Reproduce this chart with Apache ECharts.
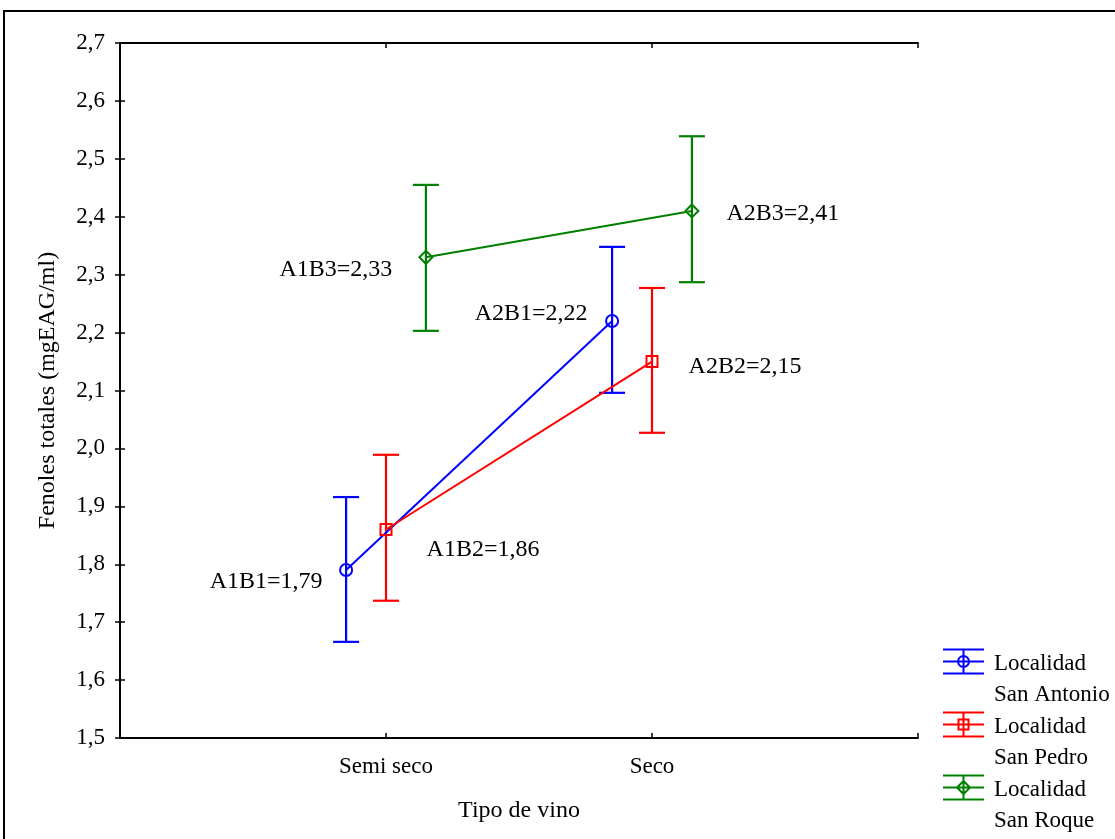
<!DOCTYPE html>
<html>
<head>
<meta charset="utf-8">
<script src="https://cdn.jsdelivr.net/npm/echarts@6/dist/echarts.min.js"></script>
<style>
html,body{margin:0;padding:0;background:#fff;}
#chart{width:1115px;height:839px;}
</style>
</head>
<body>
<div id="chart"></div>
<script>
// ---- data ----
const categories = ['Semi seco', 'Seco'];
const groups = ['San Antonio', 'San Pedro', 'San Roque'];
const meansSanAntonio = [1.79, 2.22];
const meansSanPedro   = [1.86, 2.15];
const meansSanRoque   = [2.33, 2.41];
const lowerSanAntonio = [1.666, 2.096];
const upperSanAntonio = [1.916, 2.348];
const lowerSanPedro   = [1.737, 2.027];
const upperSanPedro   = [1.989, 2.277];
const lowerSanRoque   = [2.203, 2.287];
const upperSanRoque   = [2.455, 2.539];
const yTicks = [1.5, 1.6, 1.7, 1.8, 1.9, 2.0, 2.1, 2.2, 2.3, 2.4, 2.5, 2.6, 2.7];

// ---- styling / layout ----
const FONT = '"Liberation Serif", "Times New Roman", serif';
const colors = ['#0000ff', '#ff0000', '#008000'];
const symbols = ['circle', 'rect', 'diamond'];
const symbolSizes = [12, 11, 13];
const xOffsets = [-0.15, 0, 0.15];
const labelOffsets = [
  [[-80, 12], [-81, -7]],
  [[97, 20], [93, 5]],
  [[-90, 12], [91, 3]]
];
const means = [meansSanAntonio, meansSanPedro, meansSanRoque];
const lowers = [lowerSanAntonio, lowerSanPedro, lowerSanRoque];
const uppers = [upperSanAntonio, upperSanPedro, upperSanRoque];

const base = 'M0,0L41,0M0,12L41,12M0,24L41,24M20.5,0L20.5,24';
const markerPaths = [
  'M26,12A5.5,5.5,0,1,1,15,12A5.5,5.5,0,1,1,26,12Z',
  'M15.5,7L25.5,7L25.5,17L15.5,17Z',
  'M20.5,5.5L27,12L20.5,18.5L14,12Z'
];
const fmt = v => v.toFixed(2).replace('.', ',');

const series = [];
groups.forEach((g, gi) => {
  const name = 'Localidad\n' + g;
  const col = colors[gi];
  series.push({
    type: 'custom',
    name: name,
    data: categories.map((c, ci) => [ci + 1 + xOffsets[gi], lowers[gi][ci], uppers[gi][ci]]),
    encode: { x: 0, y: [1, 2] },
    renderItem: function (params, api) {
      const x = api.value(0);
      const pLo = api.coord([x, api.value(1)]);
      const pHi = api.coord([x, api.value(2)]);
      const w = 13;
      const st = { stroke: col, lineWidth: 2.2 };
      return {
        type: 'group',
        children: [
          { type: 'line', shape: { x1: pLo[0], y1: pLo[1], x2: pHi[0], y2: pHi[1] }, style: st },
          { type: 'line', shape: { x1: pLo[0] - w, y1: pLo[1], x2: pLo[0] + w, y2: pLo[1] }, style: st },
          { type: 'line', shape: { x1: pHi[0] - w, y1: pHi[1], x2: pHi[0] + w, y2: pHi[1] }, style: st }
        ]
      };
    },
    z: 2
  });
  series.push({
    type: 'line',
    name: name,
    color: col,
    data: categories.map((c, ci) => ({
      value: [ci + 1 + xOffsets[gi], means[gi][ci]],
      name: 'A' + (ci + 1) + 'B' + (gi + 1),
      label: { offset: labelOffsets[gi][ci] }
    })),
    symbol: symbols[gi],
    symbolSize: symbolSizes[gi],
    showAllSymbol: true,
    lineStyle: { color: col, width: 2 },
    itemStyle: { color: 'rgba(255,255,255,0)', borderColor: col, borderWidth: 2 },
    label: {
      show: true,
      position: 'inside',
      align: 'center',
      verticalAlign: 'middle',
      fontFamily: FONT,
      fontSize: 24,
      color: '#000',
      formatter: p => p.name + '=' + fmt(p.value[1])
    },
    emphasis: { disabled: true },
    z: 3
  });
});

const axisLine = { show: true, lineStyle: { color: '#000', width: 2 } };
const tickInside = { show: true, inside: true, length: 5, lineStyle: { color: '#000', width: 1.5 } };

const option = {
  backgroundColor: '#fff',
  animation: false,
  textStyle: { fontFamily: FONT },
  grid: { left: 120, top: 43, right: 197, bottom: 101, containLabel: false },
  graphic: [{
    type: 'rect',
    shape: { x: 4, y: 11, width: 1300, height: 1000 },
    style: { fill: 'none', stroke: '#000', lineWidth: 2 },
    silent: true, z: -1
  }],
  legend: {
    orient: 'vertical',
    left: 942,
    top: 648,
    padding: 0,
    itemGap: 1,
    itemWidth: 41,
    itemHeight: 59,
    selectedMode: false,
    textStyle: { fontFamily: FONT, fontSize: 23, color: '#000', lineHeight: 31, padding: [0, 0, 0, 5] },
    data: groups.map((g, gi) => ({
      name: 'Localidad\n' + g,
      icon: 'path://' + base + markerPaths[gi] + 'M41,59',
      itemStyle: { color: 'rgba(255,255,255,0)', borderColor: colors[gi], borderWidth: 2 }
    }))
  },
  xAxis: [{
    type: 'value', min: 0, max: 3, interval: 1,
    name: 'Tipo de vino', nameLocation: 'middle', nameGap: 61,
    nameTextStyle: { fontFamily: FONT, fontSize: 24, color: '#000' },
    axisLine: axisLine, axisTick: tickInside, splitLine: { show: false },
    axisLabel: {
      margin: 17, fontFamily: FONT, fontSize: 23, color: '#000',
      formatter: v => (Number.isInteger(v) && v >= 1 && v <= categories.length) ? categories[v - 1] : ''
    }
  }, {
    type: 'value', min: 0, max: 3, interval: 1, position: 'top',
    axisLine: axisLine, axisTick: tickInside, splitLine: { show: false }, axisLabel: { show: false }
  }],
  yAxis: [{
    type: 'value', min: yTicks[0], max: yTicks[yTicks.length - 1], interval: 0.1,
    name: 'Fenoles totales (mgEAG/ml)', nameLocation: 'middle', nameGap: 60,
    nameTextStyle: { fontFamily: FONT, fontSize: 24, color: '#000' },
    axisLine: axisLine, axisTick: tickInside, splitLine: { show: false },
    axisLabel: {
      margin: 15, fontFamily: FONT, fontSize: 23, color: '#000',
      formatter: v => v.toFixed(1).replace('.', ',')
    }
  }, {
    type: 'value', min: yTicks[0], max: yTicks[yTicks.length - 1], interval: 0.1, position: 'right',
    axisLine: axisLine, axisTick: tickInside, splitLine: { show: false }, axisLabel: { show: false }
  }],
  series: series
};

const chart = echarts.init(document.getElementById('chart'), null, { renderer: 'canvas' });
chart.setOption(option);
</script>
</body>
</html>
